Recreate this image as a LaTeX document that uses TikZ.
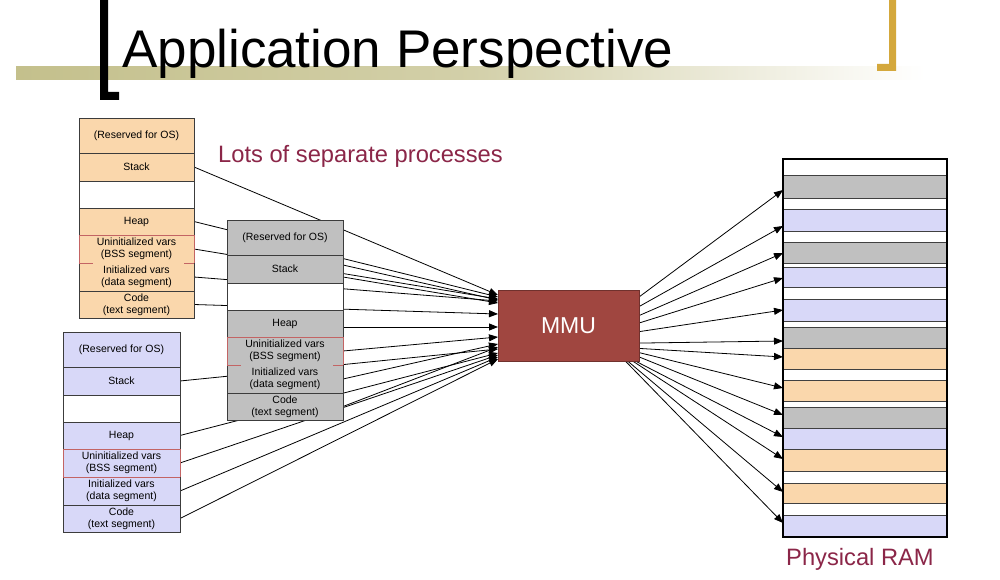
\documentclass[tikz,border=0pt]{standalone}
\usepackage{fontspec}
\setmainfont{Liberation Sans}
\usetikzlibrary{arrows.meta}
\pgfdeclarelayer{bg}
\pgfsetlayers{bg,main}
\definecolor{segorange}{RGB}{250,215,172}
\definecolor{seggray}{RGB}{192,192,192}
\definecolor{segblue}{RGB}{216,216,248}
\definecolor{mmured}{RGB}{160,70,64}
\definecolor{bssred}{RGB}{195,100,100}
\definecolor{labelred}{RGB}{139,38,72}
\definecolor{olivebar}{RGB}{196,192,140}
\definecolor{goldbar}{RGB}{212,168,60}
\definecolor{segline}{RGB}{60,60,60}
\newcommand\segfont{\fontsize{10.5}{12}\selectfont}
\newcommand\procstack[6]{%
 \node[seg, fill=#5, minimum width=#4, minimum height=35] (#1res) at (#2,#3) {(Reserved for OS)};
 \node[seg, fill=#5, minimum width=#4, minimum height=28] (#1stk) at (#1res.south west) {Stack};
 \node[seg, fill=white, minimum width=#4, minimum height=27] (#1gap) at (#1stk.south west) {};
 \node[seg, fill=#5, minimum width=#4, minimum height=27] (#1heap) at (#1gap.south west) {Heap};
 \node[seg, fill=#5, minimum width=#4, minimum height=28] (#1bss) at (#1heap.south west) {Uninitialized vars\\(BSS segment)};
 \node[seg, fill=#5, minimum width=#4, minimum height=28] (#1data) at (#1bss.south west) {Initialized vars\\(data segment)};
 \node[seg, fill=#5, minimum width=#4, minimum height=27] (#1code) at (#1data.south west) {Code\\(text segment)};
 \draw[sepline] (#1res.north west) rectangle (#1code.south east);
 \draw[sepline] (#1stk.north west) -- (#1stk.north east) (#1gap.north west) -- (#1gap.north east)
   (#1heap.north west) -- (#1heap.north east) (#1code.north west) -- (#1code.north east);
 \draw[bssline] (#1bss.south west) -- (#1bss.north west) -- (#1bss.north east) -- (#1bss.south east);
 \ifnum#6=1 \draw[bssline] (#1bss.south west) -- (#1bss.south east);
 \else \draw[bssline] (#1bss.south west) -- ++(14,0) (#1bss.south east) -- ++(-10,0); \fi
}
\begin{document}
\begin{tikzpicture}[x=1pt,y=-1pt,
  seg/.style={rectangle, anchor=north west, inner sep=0, outer sep=0, align=center, font=\segfont},
  sepline/.style={draw=segline, line width=0.8pt},
  bssline/.style={draw=bssred, line width=0.8pt},
  conn/.style={draw=black, line width=0.8pt, -{Triangle[length=9pt,width=7pt]}},
  band/.style={rectangle, anchor=north west, inner sep=0, outer sep=0, minimum width=163, draw=black!75, line width=1pt},
  lbl/.style={anchor=base west, inner sep=0, text=labelred, font=\fontsize{23.7}{28}\selectfont}]
\useasboundingbox (0,0) rectangle (1000,580);
\begin{pgfonlayer}{bg}
\fill[white] (0,0) rectangle (1000,580);
\end{pgfonlayer}
% header decoration
\shade[left color=olivebar, right color=white, middle color=olivebar!75] (16,67) rectangle (925,80);
\fill[black] (100,0) -- (108,0) -- (108,92) -- (119,92) -- (119,100) -- (100,100) -- cycle;
\fill[goldbar] (889,0) -- (896,0) -- (896,71) -- (877,71) -- (877,64) -- (889,64) -- cycle;
\node[anchor=base west, inner sep=0, font=\fontsize{53}{60}\selectfont] (title) at (122,68) {Application Perspective};
\node[lbl] (lots) at (218,163) {Lots of separate processes};
\node[lbl] (physram) at (786,565) {Physical RAM};
% process stacks
\procstack{o}{79}{118}{115}{segorange}{0}
\procstack{g}{227}{220}{116}{seggray}{0}
\procstack{b}{63}{332}{117}{segblue}{1}
% MMU
\node[draw=mmured!70!black, fill=mmured, minimum width=141, minimum height=71, inner sep=0, outer sep=0,
  text=white, font=\fontsize{23}{27}\selectfont] (mmu) at (568.5,325.5) {MMU};
% RAM
\node[rectangle, anchor=north west, inner sep=0, outer sep=0, minimum width=164, minimum height=378, fill=white] (ram) at (783,159) {};
\node[band, fill=seggray, minimum height=22] (r1) at (783,176) {};
\node[band, fill=segblue, minimum height=22] (r2) at (783,209) {};
\node[band, fill=seggray, minimum height=21] (r3) at (783,242) {};
\node[band, fill=segblue, minimum height=20] (r4) at (783,267) {};
\node[band, fill=segblue, minimum height=22] (r5) at (783,299) {};
\node[band, fill=seggray, minimum height=21] (r6) at (783,327) {};
\node[band, fill=segorange, minimum height=21] (r7) at (783,348) {};
\node[band, fill=segorange, minimum height=21] (r8) at (783,380) {};
\node[band, fill=seggray, minimum height=21] (r9) at (783,407) {};
\node[band, fill=segblue, minimum height=21] (r10) at (783,428) {};
\node[band, fill=segorange, minimum height=22] (r11) at (783,449) {};
\node[band, fill=segorange, minimum height=20] (r12) at (783,483) {};
\node[band, fill=segblue, minimum height=22] (r13) at (783,515) {};
\draw[line width=2pt] (ram.north west) rectangle (ram.south east);
% connectors
\begin{pgfonlayer}{bg}
\draw[conn] (ostk.east) -- (mmu.west |- 0,295);
\draw[conn] (oheap.east) -- (mmu.west |- 0,297);
\draw[conn] (obss.east) -- (mmu.west |- 0,299);
\draw[conn] (odata.east) -- (mmu.west |- 0,301);
\draw[conn] (ocode.east) -- (mmu.west |- 0,314);
\draw[conn] (gstk.east |- 0,265) -- (mmu.west |- 0,300);
\draw[conn] (gstk.east |- 0,277) -- (mmu.west |- 0,303);
\draw[conn] (gheap.east |- 0,327) -- (mmu.west |- 0,327);
\draw[conn] (gbss.east) -- (mmu.west |- 0,337);
\draw[conn] (gdata.east) -- (mmu.west |- 0,344);
\draw[conn] (gcode.east) -- (mmu.west |- 0,347);
\draw[conn] (bstk.east) -- (mmu.west |- 0,349);
\draw[conn] (bheap.east) -- (mmu.west |- 0,353);
\draw[conn] (bbss.east) -- (mmu.west |- 0,355);
\draw[conn] (bdata.east) -- (mmu.west |- 0,357);
\draw[conn] (bcode.east) -- (mmu.west |- 0,359);
\draw[conn] (mmu.22) -- (r1.west |- 0,190);
\draw[conn] (mmu.15) -- (r2.west |- 0,226);
\draw[conn] (mmu.8) -- (r3.west |- 0,253);
\draw[conn] (mmu.2) -- (r4.west |- 0,278);
\draw[conn] (mmu.-5) -- (r5.west);
\draw[conn] (mmu.-14) -- (r6.west |- 0,341);
\draw[conn] (mmu.-18) -- (r7.west |- 0,357);
\draw[conn] (mmu.-21) -- (r8.west |- 0,388);
\draw[conn] (mmu.-24) -- (r9.west |- 0,415);
\draw[conn] (mmu.-28) -- (r10.west |- 0,437);
\draw[conn] (mmu.-29) -- (r11.west |- 0,459);
\draw[conn] (mmu.-31) -- (r12.west |- 0,492);
\draw[conn] (mmu.-32) -- (r13.west |- 0,523);
\end{pgfonlayer}
\end{tikzpicture}
\end{document}
